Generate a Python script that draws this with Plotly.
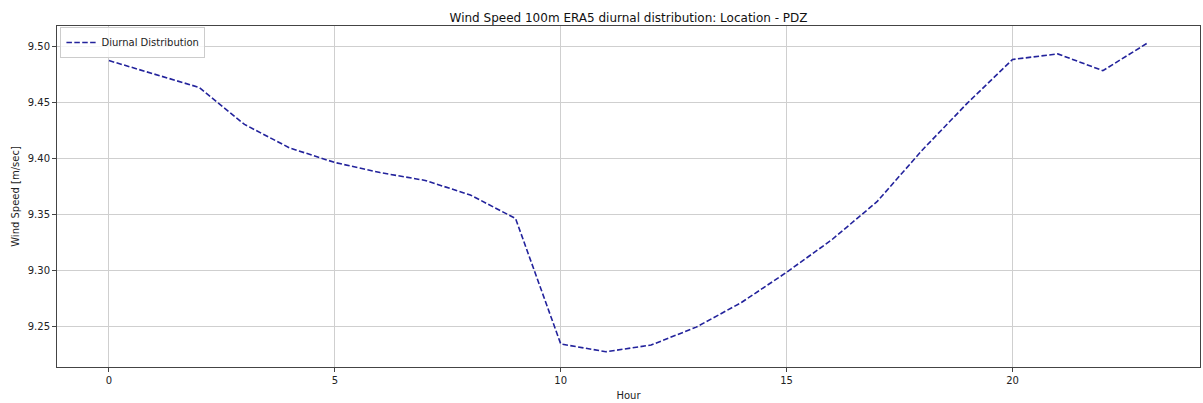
import plotly.graph_objects as go

# Hourly mean 100 m wind speed (ERA5) for location PDZ
hours = list(range(24))
wind_speed = [9.487, 9.475, 9.463, 9.430, 9.409, 9.396, 9.387, 9.380, 9.367, 9.346,
              9.234, 9.227, 9.233, 9.249, 9.271, 9.298, 9.327, 9.361, 9.407, 9.449,
              9.488, 9.493, 9.478, 9.503]

x_ticks = [0, 5, 10, 15, 20]
y_ticks = [9.25, 9.30, 9.35, 9.40, 9.45, 9.50]

FONT = "DejaVu Sans"

fig = go.Figure()
fig.add_trace(go.Scatter(
    x=hours, y=wind_speed, mode="lines", name="Diurnal Distribution",
    line=dict(color="#23239c", width=1.6, dash="5.5px,2.4px"),
))

axis_common = dict(
    showgrid=True, gridcolor="#cfcfcf", gridwidth=1,
    showline=True, linecolor="#444444", linewidth=1, mirror=True,
    ticks="outside", ticklen=4, tickcolor="#444444",
    tickfont=dict(family=FONT, size=10, color="#222222"),
    zeroline=False,
)

fig.update_layout(
    width=1203, height=403,
    margin=dict(l=57, r=3, t=26, b=36),
    paper_bgcolor="white", plot_bgcolor="white",
    font=dict(family=FONT, size=10, color="#222222"),
    title=dict(text="Wind Speed 100m ERA5 diurnal distribution: Location - PDZ",
               x=0.5225, xanchor="center", y=0.957, yanchor="middle",
               font=dict(family=FONT, size=12, color="#111111")),
    xaxis=dict(range=[-1.15, 24.15], tickvals=x_ticks,
               title=dict(text="Hour", font=dict(family=FONT, size=10), standoff=6),
               **axis_common),
    yaxis=dict(range=[9.2134, 9.5179], tickvals=y_ticks, tickformat=".2f",
               title=dict(text="Wind Speed [m/sec]", font=dict(family=FONT, size=10), standoff=6),
               **axis_common),
    showlegend=True,
    legend=dict(x=0.003, y=0.997, xanchor="left", yanchor="top",
                bgcolor="rgba(255,255,255,0.8)", bordercolor="#cccccc", borderwidth=1,
                font=dict(family=FONT, size=10, color="#222222"),
                itemwidth=30),
)

# Figure heading sitting above the visible canvas; only its descenders show
fig.add_annotation(
    text="<b>Wind Speed (m/sec)</b>", xref="paper", yref="paper",
    x=0.355, y=1.0, xanchor="center", yanchor="bottom", yshift=24,
    showarrow=False, font=dict(family=FONT, size=26, color="#1a2a5a"),
)

fig.write_html("out.html")
